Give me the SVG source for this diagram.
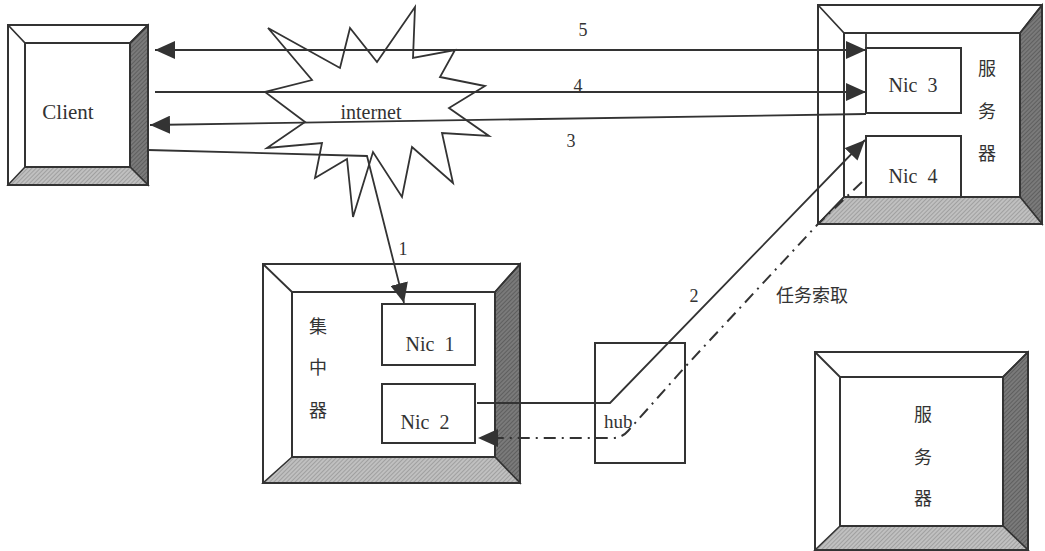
<svg xmlns="http://www.w3.org/2000/svg" width="1045" height="551" viewBox="0 0 1045 551">
<style>
.o{fill:none;stroke:#333;stroke-width:2}
.ln{fill:none;stroke:#333;stroke-width:1.8}
.dd{fill:none;stroke:#333;stroke-width:2;stroke-dasharray:12 6 2 6}
.dk{fill:url(#hd);stroke:#333;stroke-width:1.5}
.lt{fill:url(#hl);stroke:#333;stroke-width:1.5}
.t{font-family:"Liberation Serif","Noto Sans CJK SC",serif;fill:#333;white-space:pre}
.c{font-family:"Noto Sans CJK SC","Liberation Serif",sans-serif;fill:#333;font-size:18px}
</style>
<defs>
<pattern id="hd" width="3" height="3" patternUnits="userSpaceOnUse" patternTransform="rotate(45)">
<rect width="3" height="3" fill="#7a7a7a"/><line x1="0" y1="0" x2="0" y2="3" stroke="#444" stroke-width="1"/>
</pattern>
<pattern id="hl" width="3" height="3" patternUnits="userSpaceOnUse" patternTransform="rotate(45)">
<rect width="3" height="3" fill="#c0c0c0"/><line x1="0" y1="0" x2="0" y2="3" stroke="#808080" stroke-width="1"/>
</pattern>
<marker id="ar" viewBox="0 0 20 18" refX="20" refY="9" markerWidth="20" markerHeight="18" markerUnits="userSpaceOnUse" orient="auto-start-reverse">
<path d="M0,0 L20,9 L0,18 z" fill="#333"/>
</marker>
</defs>
<rect width="1045" height="551" fill="#fff"/>

<g id="client">
<polygon class="dk" points="148,25 148,185 130,167 130,43"/>
<polygon class="lt" points="8,185 148,185 130,167 25,167"/>
<rect class="o" x="8" y="25" width="140" height="160"/>
<rect class="o" x="25" y="43" width="105" height="124"/>
<path class="ln" d="M8,25 L25,43 M148,25 L130,43"/>
<text class="t" x="68" y="119" font-size="21" text-anchor="middle">Client</text>
</g>

<g id="internet">
<polygon fill="#fff" stroke="#333" stroke-width="1.8" stroke-linejoin="miter" points="268,28 340,68 350,28 377,62 415,7 413,58 455,50 440,77 485,86 449,108 489,136 442,133 453,183 412,147 402,197 373,152 353,217 347,159 315,178 322,143 267,148 305,122 265,92 312,80"/>
</g>

<g id="server1">
<polygon class="dk" points="1042,5 1042,224 1020,197 1020,33"/>
<polygon class="lt" points="818,224 1042,224 1020,197 844,197"/>
<rect class="o" x="818" y="5" width="224" height="219"/>
<rect class="o" x="844" y="33" width="176" height="164"/>
<path class="ln" d="M818,5 L844,33 M1042,5 L1020,33 M818,224 L844,197"/>
<g id="nic3">
<rect class="o" x="866" y="48" width="95" height="65"/>
<line class="ln" x1="866" y1="33" x2="866" y2="48"/>
<text class="t" x="913" y="92" font-size="20" text-anchor="middle" xml:space="preserve">Nic  3</text>
</g>
<g id="nic4">
<rect class="o" x="866" y="136" width="95" height="61"/>
<text class="t" x="913" y="183" font-size="20" text-anchor="middle" xml:space="preserve">Nic  4</text>
</g>
<text class="c" x="987" y="75" text-anchor="middle">服</text>
<text class="c" x="987" y="118" text-anchor="middle">务</text>
<text class="c" x="987" y="160" text-anchor="middle">器</text>
</g>

<g id="concentrator">
<polygon class="dk" points="520,264 520,483 495,457 495,292"/>
<polygon class="lt" points="263,483 520,483 495,457 292,457"/>
<rect class="o" x="263" y="264" width="257" height="219"/>
<rect class="o" x="292" y="292" width="203" height="165"/>
<path class="ln" d="M263,264 L292,292 M520,264 L495,292"/>
<g id="nic1">
<rect class="o" x="382" y="304" width="93" height="61"/>
<text class="t" x="430" y="351" font-size="20" text-anchor="middle" xml:space="preserve">Nic  1</text>
</g>
<g id="nic2">
<rect class="o" x="382" y="384" width="93" height="59"/>
<text class="t" x="425" y="429" font-size="20" text-anchor="middle" xml:space="preserve">Nic  2</text>
</g>
<text class="c" x="318" y="333" text-anchor="middle">集</text>
<text class="c" x="318" y="374" text-anchor="middle">中</text>
<text class="c" x="318" y="417" text-anchor="middle">器</text>
</g>

<g id="hub">
<rect class="o" x="595" y="343" width="90" height="120"/>
<text class="t" x="604" y="428" font-size="19">hub</text>
</g>

<g id="server2">
<polygon class="dk" points="1028,352 1028,550 1003,526 1003,377"/>
<polygon class="lt" points="815,550 1028,550 1003,526 840,526"/>
<rect class="o" x="815" y="352" width="213" height="198"/>
<rect class="o" x="840" y="377" width="163" height="149"/>
<path class="ln" d="M815,352 L840,377 M1028,352 L1003,377"/>
<text class="c" x="923" y="421" text-anchor="middle">服</text>
<text class="c" x="923" y="464" text-anchor="middle">务</text>
<text class="c" x="923" y="505" text-anchor="middle">器</text>
</g>

<g id="connectors">
<line class="ln" x1="155" y1="50" x2="866" y2="50" marker-start="url(#ar)" marker-end="url(#ar)"/>
<line class="ln" x1="155" y1="92" x2="866" y2="92" marker-end="url(#ar)"/>
<line class="ln" x1="866" y1="114" x2="150" y2="125" marker-end="url(#ar)"/>
<polyline class="ln" points="148,150 367,156 404,303" marker-end="url(#ar)"/>
<polyline class="ln" points="477,403 610,403 865,140" marker-end="url(#ar)"/>
<path class="dd" d="M862,182 L818,224 L685,367 L628,431 Q622,438 612,438 L478,438" marker-end="url(#ar)"/>
<text class="t" x="371" y="119" font-size="20" text-anchor="middle">internet</text>
<text class="t" x="583" y="36" font-size="18" text-anchor="middle">5</text>
<text class="t" x="578" y="92" font-size="18" text-anchor="middle">4</text>
<text class="t" x="571" y="147" font-size="18" text-anchor="middle">3</text>
<text class="t" x="403" y="255" font-size="18" text-anchor="middle">1</text>
<text class="t" x="694" y="302" font-size="18" text-anchor="middle">2</text>
<text class="c" x="776" y="302">任务索取</text>
</g>
</svg>
